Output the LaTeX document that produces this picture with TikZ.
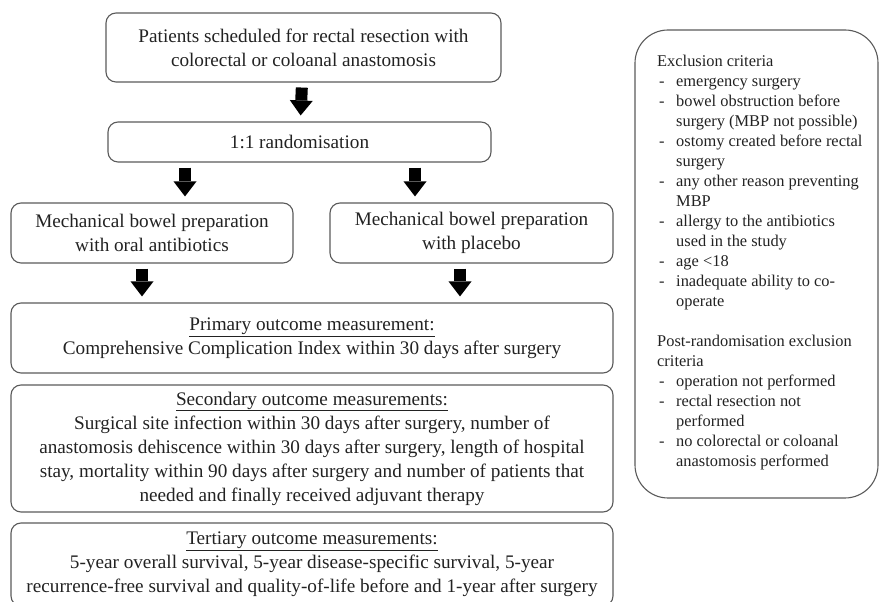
\documentclass[tikz,border=0pt]{standalone}
\usepackage{fontspec}
\setmainfont{Liberation Serif}
\usetikzlibrary{arrows.meta}
\definecolor{boxline}{HTML}{5A5A5A}
\definecolor{ink}{HTML}{222222}
\tikzset{
  box/.style={draw=boxline,line width=1.1pt,rounded corners=10pt,align=center,inner sep=0pt,text=ink,font=\fontsize{19.2}{24}\selectfont},
  wide/.style={box,minimum width=602pt},
  fat/.style={line width=12pt,-{Triangle[width=23pt,length=15pt,line width=0pt]},shorten <=5pt,shorten >=6pt},
  exbox/.style={draw=boxline,line width=1.1pt,rounded corners=33pt,minimum width=243pt,minimum height=468pt},
  extext/.style={align=left,inner sep=0pt,text=ink,font=\fontsize{16.4}{20}\selectfont}
}
\newcommand{\exdash}{\makebox[19pt][l]{\hspace{2pt}-}}
\newcommand{\exgap}{\hspace*{19pt}}

\begin{document}
\begin{tikzpicture}[x=1pt,y=1pt]
\useasboundingbox (0,0) rectangle (879,602);
\node[box,minimum width=395pt,minimum height=69pt] (pat) at (303.5,554.5) {Patients scheduled for rectal resection with\\colorectal or coloanal anastomosis};
\node[box,minimum width=383pt,minimum height=40pt] (rand) at (299.5,460) {1:1 randomisation};
\node[box,minimum width=282pt,minimum height=60pt] (mleft) at (152,369) {Mechanical bowel preparation\\with oral antibiotics};
\node[box,minimum width=283pt,minimum height=60pt] (mright) at (471.5,369) {Mechanical bowel preparation\\with placebo};
\node[wide,minimum height=70pt] (prim) at (312,264) {\underline{Primary outcome measurement:}\\Comprehensive Complication Index within 30 days after surgery};
\node[wide,minimum height=127pt] (sec) at (312,153.5) {\underline{Secondary outcome measurements:}\\Surgical site infection within 30 days after surgery, number of\\anastomosis dehiscence within 30 days after surgery, length of hospital\\stay, mortality within 90 days after surgery and number of patients that\\needed and finally received adjuvant therapy};
\node[wide,minimum height=83pt] (ter) at (312,37.5) {\underline{Tertiary outcome measurements:}\\5-year overall survival, 5-year disease-specific survival, 5-year\\recurrence-free survival and quality-of-life before and 1-year after surgery};
\node[exbox] (excl) at (756.5,338) {};
\node[extext,anchor=north west] (exlist) at (657,547.5) {Exclusion criteria\\
\exdash emergency surgery\\
\exdash bowel obstruction before\\
\exgap surgery (MBP not possible)\\
\exdash ostomy created before rectal\\
\exgap surgery\\
\exdash any other reason preventing\\
\exgap MBP\\
\exdash allergy to the antibiotics\\
\exgap used in the study\\
\exdash age <18\\
\exdash inadequate ability to co-\\
\exgap operate\\[20pt]
Post-randomisation exclusion\\
criteria\\
\exdash operation not performed\\
\exdash rectal resection not\\
\exgap performed\\
\exdash no colorectal or coloanal\\
\exgap anastomosis performed};
\draw[fat] (pat) -- (rand);
\draw[fat] ([xshift=-114.5pt]rand.south) -- ([xshift=33pt]mleft.north);
\draw[fat] ([xshift=115.5pt]rand.south) -- ([xshift=-56.5pt]mright.north);
\draw[fat] ([xshift=-10pt]mleft.south) -- ([xshift=-170pt]prim.north);
\draw[fat] ([xshift=-11.5pt]mright.south) -- ([xshift=148pt]prim.north);
\end{tikzpicture}
\end{document}
